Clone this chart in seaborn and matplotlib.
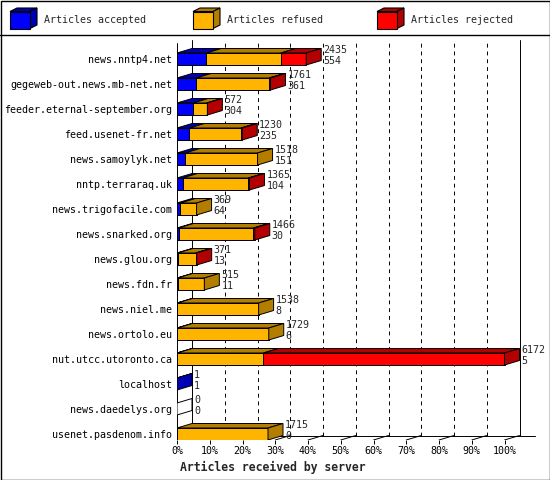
import numpy as np
import pandas as pd
import matplotlib
matplotlib.use("Agg")
import matplotlib.pyplot as plt
import matplotlib.colors as mcolors
from matplotlib.patches import Polygon, Rectangle
import seaborn as sns

# --- data ---
servers = [
    "news.nntp4.net", "gegeweb-out.news.mb-net.net", "feeder.eternal-september.org",
    "feed.usenet-fr.net", "news.samoylyk.net", "nntp.terraraq.uk",
    "news.trigofacile.com", "news.snarked.org", "news.glou.org", "news.fdn.fr",
    "news.niel.me", "news.ortolo.eu", "nut.utcc.utoronto.ca", "localhost",
    "news.daedelys.org", "usenet.pasdenom.info",
]
accepted = [554, 361, 304, 235, 151, 104, 64, 30, 13, 11, 8, 6, 5, 1, 0, 0]
refused = [1402, 1375, 255, 972, 1367, 1241, 305, 1411, 339, 504, 1530, 1723, 1623, 0, 0, 1715]
rejected = [479, 25, 13, 23, 0, 20, 0, 25, 19, 0, 0, 0, 4544, 0, 0, 0]
legend_labels = ["Articles accepted", "Articles refused", "Articles rejected"]
pct_labels = [f"{k * 10}%" for k in range(11)]

BLUE, ORANGE, RED = "#0000ff", "#ffb400", "#ff0000"
MONO = ["DejaVu Sans Mono"]


def shade(c, f=0.7):
    r, g, b = mcolors.to_rgb(c)
    return (r * f, g * f, b * f)


df = pd.DataFrame({"server": servers, "accepted": accepted,
                   "refused": refused, "rejected": rejected})
df["ok_ref"] = df["accepted"] + df["refused"]
df["total"] = df["ok_ref"] + df["rejected"]

sns.set_theme(style="white")
plt.rcParams["font.family"] = MONO

fig = plt.figure(figsize=(5.5, 4.8), dpi=100, facecolor="white")

# overlay in pixel coords for frame + legend
bg = fig.add_axes([0, 0, 1, 1], zorder=0)
bg.set_xlim(0, 550)
bg.set_ylim(480, 0)
bg.axis("off")
bg.add_patch(Rectangle((0.5, 0.5), 549, 479, fill=False, ec="black", lw=1.0))
bg.plot([0, 550], [35, 35], color="black", lw=1.0)

for (x0, lab, c) in zip([10, 193, 377], legend_labels, [BLUE, ORANGE, RED]):
    w, h, ddx, ddy = 20, 17, 7, 3.5
    y0 = 11.5
    bg.add_patch(Polygon([(x0, y0), (x0 + w, y0), (x0 + w + ddx, y0 - ddy), (x0 + ddx, y0 - ddy)],
                         fc=shade(c), ec="black", lw=0.8))
    bg.add_patch(Polygon([(x0 + w, y0), (x0 + w, y0 + h), (x0 + w + ddx, y0 + h - ddy),
                          (x0 + w + ddx, y0 - ddy)], fc=shade(c), ec="black", lw=0.8))
    bg.add_patch(Rectangle((x0, y0), w, h, fc=c, ec="black", lw=0.8))
    bg.text(x0 + w + ddx + 7, 20, lab, fontsize=7.2, va="center", ha="left")

bg.text(180, 467, "Articles received by server", fontsize=8.3, fontweight="bold",
        va="center", ha="left")

# main chart: 0% at x=177px, 100% at x=504.5px, rows 25px apart
xmax = df["total"].max()
px_per_art = 327.5 / xmax
ax = fig.add_axes([177 / 550, 40 / 480, 363 / 550, 400 / 480], zorder=1)
ax.patch.set_alpha(0)

H = 0.48
DX = 15 / px_per_art
DY = 4.5 / 25
ytop, ybot = -0.76, 15.24
floor_back = ybot - DY

# stacked by overdrawing: total (red), accepted+refused (orange), accepted (blue)
for col, c in [("total", RED), ("ok_ref", ORANGE), ("accepted", BLUE)]:
    sns.barplot(data=df, x=col, y="server", orient="y", color=c, saturation=1,
                width=H, edgecolor="black", linewidth=0.7, errorbar=None,
                zorder=3, ax=ax)

# back wall + floor
for k in range(11):
    xb = k * xmax / 10 + DX
    ls = "-" if k in (0, 10) else (0, (4, 4))
    ax.plot([xb, xb], [floor_back, ytop], color="black", lw=0.7, ls=ls, zorder=1)
    ax.plot([k * xmax / 10, xb], [ybot, floor_back], color="black", lw=0.7, zorder=1)
ax.plot([DX, 358 / px_per_art], [floor_back, floor_back], color="black", lw=0.7, zorder=1)
ax.plot([0, xmax], [ybot, ybot], color="black", lw=0.7, zorder=2)
ax.plot([0, 0], [ybot, -0.64], color="black", lw=0.7, zorder=1)

# 3d top/side faces and value labels
for i, row in df.iterrows():
    a, ok, t = row["accepted"], row["ok_ref"], row["total"]
    top, bot = i - H / 2, i + H / 2
    last = "white"
    for x0, x1, c in [(0, a, BLUE), (a, ok, ORANGE), (ok, t, RED)]:
        if x1 > x0:
            ax.add_patch(Polygon([(x0, top), (x1, top), (x1 + DX, top - DY), (x0 + DX, top - DY)],
                                 fc=shade(c), ec="black", lw=0.7, zorder=3))
            last = shade(c)
    ax.add_patch(Polygon([(t, top), (t, bot), (t + DX, bot - DY), (t + DX, top - DY)],
                         fc=last, ec="black", lw=0.7, zorder=3))
    xl = t + DX + 2 / px_per_art
    ax.text(xl, i - 0.37, f"{t}", fontsize=7.2, va="center", ha="left", zorder=4)
    ax.text(xl, i + 0.07, f"{a}", fontsize=7.2, va="center", ha="left", zorder=4)

ax.set_xlim(0, 363 / px_per_art)
ax.set_ylim(ybot, ytop)
ax.set_xticks([k * xmax / 10 for k in range(11)])
ax.set_xticklabels(pct_labels)
ax.set_xlabel("")
ax.set_ylabel("")
ax.tick_params(axis="y", length=0, labelsize=7.2, colors="black", pad=3.6)
ax.tick_params(axis="x", length=3, width=0.7, direction="out", labelsize=7.2,
               colors="black", pad=1.2, bottom=True)
for s in ax.spines.values():
    s.set_visible(False)

fig.savefig("out.png", dpi=100, facecolor="white")
